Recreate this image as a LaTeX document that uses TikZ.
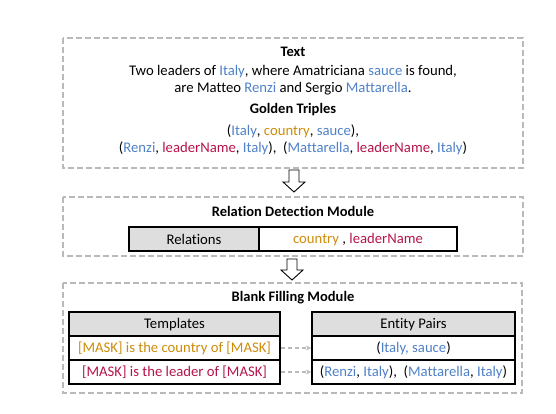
\documentclass[tikz,border=0pt]{standalone}
\usepackage{fontspec}
\setmainfont[Ligatures={NoCommon}]{Carlito}
\usetikzlibrary{arrows.meta}
\definecolor{eblue}{RGB}{79,129,200}
\definecolor{rorange}{RGB}{205,140,10}
\definecolor{rred}{RGB}{180,20,75}
\definecolor{dgray}{RGB}{185,185,185}
\definecolor{hgray}{RGB}{222,222,222}
\tikzset{
  panel/.style={draw=dgray, line width=1.4pt, dash pattern=on 6pt off 3pt},
  cell/.style={draw=black, line width=1.1pt},
  hdr/.style={cell, fill=hgray},
  title/.style={font=\fontsize{14.5}{17}\selectfont\bfseries},
  body/.style={font=\fontsize{14.7}{17}\selectfont, align=center},
  ctext/.style={font=\fontsize{14.7}{17}\selectfont},
  flow/.style={draw=black, line width=0.9pt, fill=white},
  link/.style={draw=dgray, line width=1.1pt, dash pattern=on 4pt off 3pt, -{Stealth[length=5pt,width=5pt]}}
}
\newcommand{\eb}[1]{\textcolor{eblue}{#1}}
\newcommand{\ro}[1]{\textcolor{rorange}{#1}}
\newcommand{\rr}[1]{\textcolor{rred}{#1}}
\begin{document}
\begin{tikzpicture}[x=1pt,y=-1pt]
\useasboundingbox (0,0) rectangle (556,413);
% panels
\draw[panel] (63,38) rectangle (523,168);
\draw[panel] (63,197) rectangle (523,256);
\draw[panel] (63,283) rectangle (522,393);
% panel 1 texts
\node[title] (t1) at (293,52) {Text};
\node[body] (t2) at (293,80) {Two leaders of \eb{Italy}, where Amatriciana \eb{sauce} is found,\\are Matteo \eb{Renzi} and Sergio \eb{Mattarella}.};
\node[title] (t3) at (293,110) {Golden Triples};
\node[body] (t4) at (293,139.5) {(\eb{Italy}, \ro{country}, \eb{sauce}),\\(\eb{Renzi}, \rr{leaderName}, \eb{Italy}),\ \ (\eb{Mattarella}, \rr{leaderName}, \eb{Italy})};
% arrows between panels
\draw[flow] (289,170) -- (299,170) -- (299,182) -- (305,182) -- (294,192) -- (283,182) -- (289,182) -- cycle;
\draw[flow] (287,259) -- (297,259) -- (297,270) -- (303,270) -- (292,280) -- (281,270) -- (287,270) -- cycle;
% panel 2
\node[title] (rd) at (293,211) {Relation Detection Module};
\draw[hdr] (129,227) rectangle (259,251);
\draw[cell] (259,227) rectangle (457,251);
\node[ctext] (rel) at (194,239.5) {Relations};
\node[ctext] (rv) at (358,239.5) {\ro{country} , \rr{leaderName}};
% panel 3
\node[title] (bf) at (293,298) {Blank Filling Module};
\draw[hdr] (69,312) rectangle (280,336);
\draw[cell] (69,336) rectangle (280,360);
\draw[cell] (69,360) rectangle (280,384);
\draw[hdr] (312,312) rectangle (515,336);
\draw[cell] (312,336) rectangle (515,360);
\draw[cell] (312,360) rectangle (515,384);
\node[ctext] (th) at (174.5,324.5) {Templates};
\node[ctext, inner sep=0pt] (ta) at (174.5,348.5) {\ro{[MASK] is the country of [MASK]}};
\node[ctext, inner sep=0pt] (tb) at (174.5,372.5) {\rr{[MASK] is the leader of [MASK]}};
\node[ctext] (eh) at (413.5,324.5) {Entity Pairs};
\node[ctext, inner sep=0pt] (ea) at (413.5,348) {(\eb{Italy, sauce})};
\node[ctext, inner sep=0pt] (eb) at (413.5,372) {(\eb{Renzi}, \eb{Italy}),\ \ (\eb{Mattarella}, \eb{Italy})};
\coordinate (la) at (281,348);
\coordinate (lb) at (281,372);
\coordinate (ra) at (311,348);
\coordinate (rb) at (311,372);
\draw[link] (la) -- (ra);
\draw[link] (lb) -- (rb);
\end{tikzpicture}
\end{document}
